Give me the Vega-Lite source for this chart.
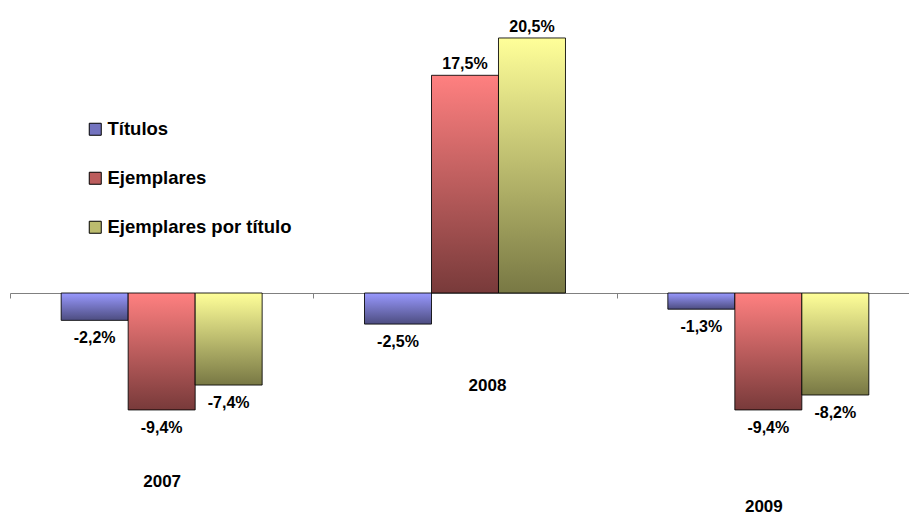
{
  "$schema": "https://vega.github.io/schema/vega-lite/v6.json",
  "width": 910,
  "height": 514,
  "autosize": {"type": "none"},
  "padding": {"left": 10, "top": 0, "right": 0, "bottom": 0},
  "background": "white",
  "config": {
    "view": {"stroke": null},
    "font": "Liberation Sans",
    "locale": {"number": {"decimal": ",", "thousands": ".", "grouping": [3], "currency": ["", " €"], "minus": "-"}}
  },
  "data": {"values": [
    {"año": "2007", "serie": "Títulos", "valor": -0.022},
    {"año": "2007", "serie": "Ejemplares", "valor": -0.094},
    {"año": "2007", "serie": "Ejemplares por título", "valor": -0.074},
    {"año": "2008", "serie": "Títulos", "valor": -0.025},
    {"año": "2008", "serie": "Ejemplares", "valor": 0.175},
    {"año": "2008", "serie": "Ejemplares por título", "valor": 0.205},
    {"año": "2009", "serie": "Títulos", "valor": -0.013},
    {"año": "2009", "serie": "Ejemplares", "valor": -0.094},
    {"año": "2009", "serie": "Ejemplares por título", "valor": -0.082}
  ]},
  "encoding": {
    "x": {
      "field": "año", "type": "nominal", "sort": null,
      "scale": {"domain": ["2007", "2008", "2009"], "paddingInner": 0, "paddingOuter": 0},
      "axis": {
        "title": null, "orient": "bottom", "offset": -221,
        "domainColor": "#808080", "domainWidth": 1,
        "tickColor": "#808080", "tickSize": 5, "tickBand": "extent",
        "labelAngle": 0, "labelFont": "Liberation Sans", "labelFontSize": 17, "labelFontWeight": "bold", "labelColor": "#000000",
        "labelBaseline": "middle", "labelOverlap": false, "labelBound": false,
        "labelPadding": {"condition": [{"test": "datum.value == '2008'", "value": 87}, {"test": "datum.value == '2009'", "value": 208}], "value": 183},
        "labelOffset": {"condition": [{"test": "datum.value == '2008'", "value": 22}, {"test": "datum.value == '2009'", "value": -5}], "value": 0}
      }
    },
    "xOffset": {
      "field": "serie", "type": "nominal",
      "scale": {"domain": ["Títulos", "Ejemplares", "Ejemplares por título"], "paddingInner": 0, "paddingOuter": 0.764}
    },
    "y": {
      "field": "valor", "type": "quantitative",
      "scale": {"domain": [-0.17765, 0.23553], "nice": false, "zero": false},
      "axis": null
    }
  },
  "layer": [
    {
      "mark": {"type": "bar", "opacity": 0},
      "encoding": {
        "color": {
          "field": "serie", "type": "nominal",
          "scale": {
            "domain": ["Títulos", "Ejemplares", "Ejemplares por título"],
            "range": ["#7373bf", "#bc5d5d", "#bcbc6e"]
          },
          "legend": {
            "title": null, "orient": "none", "legendX": 76, "legendY": 120, "direction": "vertical",
            "symbolType": "square", "symbolSize": 144, "symbolStrokeColor": "#000000", "symbolStrokeWidth": 1,
            "symbolOpacity": 1,
            "labelFont": "Liberation Sans", "labelFontSize": 18.5, "labelFontWeight": "bold", "labelColor": "#000000",
            "labelOffset": 3, "labelLimit": 0, "rowPadding": 30, "padding": 0,
            "encode": {"symbols": {"update": {
              "opacity": {"value": 1},
              "fillOpacity": {"value": 1},
              "strokeOpacity": {"value": 1},
              "stroke": {"value": "#000000"},
              "fill": {"signal": "datum.value == 'Títulos' ? {gradient: 'linear', x1: 0, y1: 0, x2: 0, y2: 1, stops: [{offset: 0, color: '#9999ff'}, {offset: 1, color: '#4d4d80'}]} : datum.value == 'Ejemplares' ? {gradient: 'linear', x1: 0, y1: 0, x2: 0, y2: 1, stops: [{offset: 0, color: '#ff8080'}, {offset: 1, color: '#783a3a'}]} : {gradient: 'linear', x1: 0, y1: 0, x2: 0, y2: 1, stops: [{offset: 0, color: '#ffff99'}, {offset: 1, color: '#787844'}]}"}
            }}}
          }
        }
      }
    },
    {
      "mark": {
        "type": "bar", "stroke": "#000000", "strokeWidth": 1, "strokeOpacity": 0.85,
        "fill": {"expr": "datum.serie == 'Títulos' ? {gradient: 'linear', x1: 0, y1: 0, x2: 0, y2: 1, stops: [{offset: 0, color: '#9999ff'}, {offset: 1, color: '#4d4d80'}]} : datum.serie == 'Ejemplares' ? {gradient: 'linear', x1: 0, y1: 0, x2: 0, y2: 1, stops: [{offset: 0, color: '#ff8080'}, {offset: 1, color: '#783a3a'}]} : {gradient: 'linear', x1: 0, y1: 0, x2: 0, y2: 1, stops: [{offset: 0, color: '#ffff99'}, {offset: 1, color: '#787844'}]}"}
      },
      "encoding": {}
    },
    {
      "transform": [{"filter": "datum.valor >= 0"}],
      "mark": {"type": "text", "baseline": "alphabetic", "dy": -6, "font": "Liberation Sans", "fontSize": 16, "fontWeight": "bold", "color": "#000000"},
      "encoding": {"text": {"field": "valor", "type": "quantitative", "format": ".1%"}}
    },
    {
      "transform": [{"filter": "datum.valor < 0"}],
      "mark": {"type": "text", "baseline": "alphabetic", "dy": 23, "font": "Liberation Sans", "fontSize": 16, "fontWeight": "bold", "color": "#000000"},
      "encoding": {"text": {"field": "valor", "type": "quantitative", "format": ".1%"}}
    }
  ]
}
